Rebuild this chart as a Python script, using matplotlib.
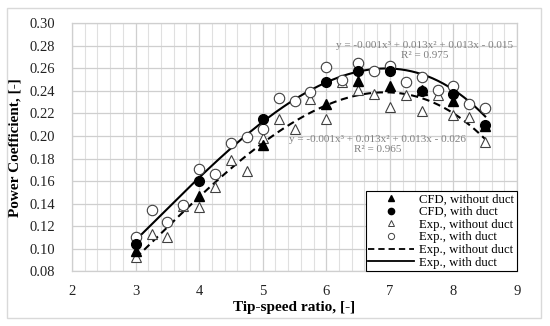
import numpy as np
import matplotlib
matplotlib.use("Agg")
import matplotlib.pyplot as plt
from matplotlib.patches import Rectangle
from matplotlib.lines import Line2D

plt.rcParams['font.family'] = ['Liberation Serif', 'DejaVu Serif']

# CFD results
cfd_x = [3, 4, 5, 6, 6.5, 7, 7.5, 8, 8.5]
cfd_no_duct = [0.098, 0.147, 0.192, 0.228, 0.249, 0.244, 0.241, 0.231, 0.209]
cfd_duct = [0.104, 0.160, 0.215, 0.248, 0.258, 0.258, 0.240, 0.237, 0.210]

# experimental results
exp_x = [3, 3.25, 3.5, 3.75, 4, 4.25, 4.5, 4.75, 5, 5.25, 5.5, 5.75, 6,
         6.25, 6.5, 6.75, 7, 7.25, 7.5, 7.75, 8, 8.25, 8.5]
exp_no_duct = [0.093, 0.113, 0.110, 0.138, 0.137, 0.155, 0.179, 0.169, 0.198,
               0.215, 0.206, 0.233, 0.215, 0.248, 0.241, 0.237, 0.226, 0.236,
               0.222, 0.236, 0.219, 0.217, 0.195]
exp_duct = [0.110, 0.134, 0.124, 0.139, 0.171, 0.166, 0.194, 0.199, 0.206,
            0.234, 0.231, 0.239, 0.261, 0.250, 0.265, 0.258, 0.262, 0.248,
            0.252, 0.241, 0.244, 0.228, 0.225]

eq_duct = "y = -0.001x³ + 0.013x² + 0.013x - 0.015\nR² = 0.975"
eq_no_duct = "y = -0.001x³ + 0.013x² + 0.013x - 0.026\nR² = 0.965"

# cubic trend lines like the spreadsheet ones
xs = np.linspace(min(exp_x), max(exp_x), 200)
fit_duct = np.polyval(np.polyfit(exp_x, exp_duct, 3), xs)
fit_no_duct = np.polyval(np.polyfit(exp_x, exp_no_duct, 3), xs)

fig = plt.figure(figsize=(5.5, 3.26), dpi=100)
ax = fig.add_axes([0.131, 0.168, 0.809, 0.7605])

# outer chart border
fig.patches.append(Rectangle((7 / 550, 8 / 326), 534 / 550, 310 / 326,
                             transform=fig.transFigure, fill=False,
                             edgecolor='#d9d9d9', linewidth=1.0))

dash = (0, (3.5, 2.2))
ax.plot(xs, fit_no_duct, color='black', lw=1.5, ls=dash, zorder=3)
ax.plot(xs, fit_duct, color='black', lw=1.5, zorder=3)

ax.plot(exp_x, exp_no_duct, ls='none', marker='^', ms=7.5, mfc='white',
        mec='#404040', mew=0.8, zorder=4)
ax.plot(exp_x, exp_duct, ls='none', marker='o', ms=7.5, mfc='white',
        mec='#404040', mew=0.8, zorder=4)
ax.plot(cfd_x, cfd_no_duct, ls='none', marker='^', ms=7, color='black', zorder=5)
ax.plot(cfd_x, cfd_duct, ls='none', marker='o', ms=7, color='black', zorder=5)

ax.text(7.55, 0.2845, eq_duct, color='#808080', fontsize=8, ha='center',
        va='top', linespacing=1.2, zorder=2)
ax.text(6.81, 0.2012, eq_no_duct, color='#808080', fontsize=8, ha='center',
        va='top', linespacing=1.2, zorder=2)

ax.set_xlim(2, 9)
ax.set_ylim(0.08, 0.30)
ax.set_xticks(np.arange(2, 10, 1))
ax.set_xticks(np.arange(2, 9.01, 0.2), minor=True)
ax.set_yticks(np.arange(0.08, 0.301, 0.02))
ax.set_yticklabels([f"{v:.2f}" for v in np.arange(0.08, 0.301, 0.02)])
ax.grid(which='major', color='#cfcfcf', lw=0.9, zorder=0)
ax.grid(which='minor', axis='x', color='#e0e0e0', lw=0.8, zorder=0)
ax.set_axisbelow(True)
ax.tick_params(which='both', length=0, labelsize=10.5, colors='#222222')
ax.tick_params(axis='y', pad=12)
ax.tick_params(axis='x', pad=10)
for s in ax.spines.values():
    s.set_color('#cfcfcf')
    s.set_linewidth(0.9)

ax.set_xlabel("Tip-speed ratio, [-]", fontsize=11, fontweight='bold', labelpad=2)
ax.set_ylabel("Power Coefficient, [-]", fontsize=11, fontweight='bold', labelpad=6)

handles = [
    Line2D([], [], ls='none', marker='^', ms=4.5, color='black'),
    Line2D([], [], ls='none', marker='o', ms=4.5, color='black'),
    Line2D([], [], ls='none', marker='^', ms=4.5, mfc='white', mec='#404040', mew=0.7),
    Line2D([], [], ls='none', marker='o', ms=4.5, mfc='white', mec='#404040', mew=0.7),
    Line2D([], [], color='black', lw=1.3, ls=dash),
    Line2D([], [], color='black', lw=1.3),
]
labels = ["CFD, without duct", "CFD, with duct", "Exp., without duct",
          "Exp., with duct", "Exp., without duct", "Exp., with duct"]
leg = ax.legend(handles, labels, loc='lower right', bbox_to_anchor=(1.0, 0.0),
                borderaxespad=0, fontsize=9.2, labelspacing=0.05,
                handlelength=3.6, handletextpad=0.4, borderpad=0.2,
                fancybox=False, framealpha=1, edgecolor='black')
leg.get_frame().set_linewidth(0.8)
leg.set_zorder(6)

fig.savefig("out.png", dpi=100)
